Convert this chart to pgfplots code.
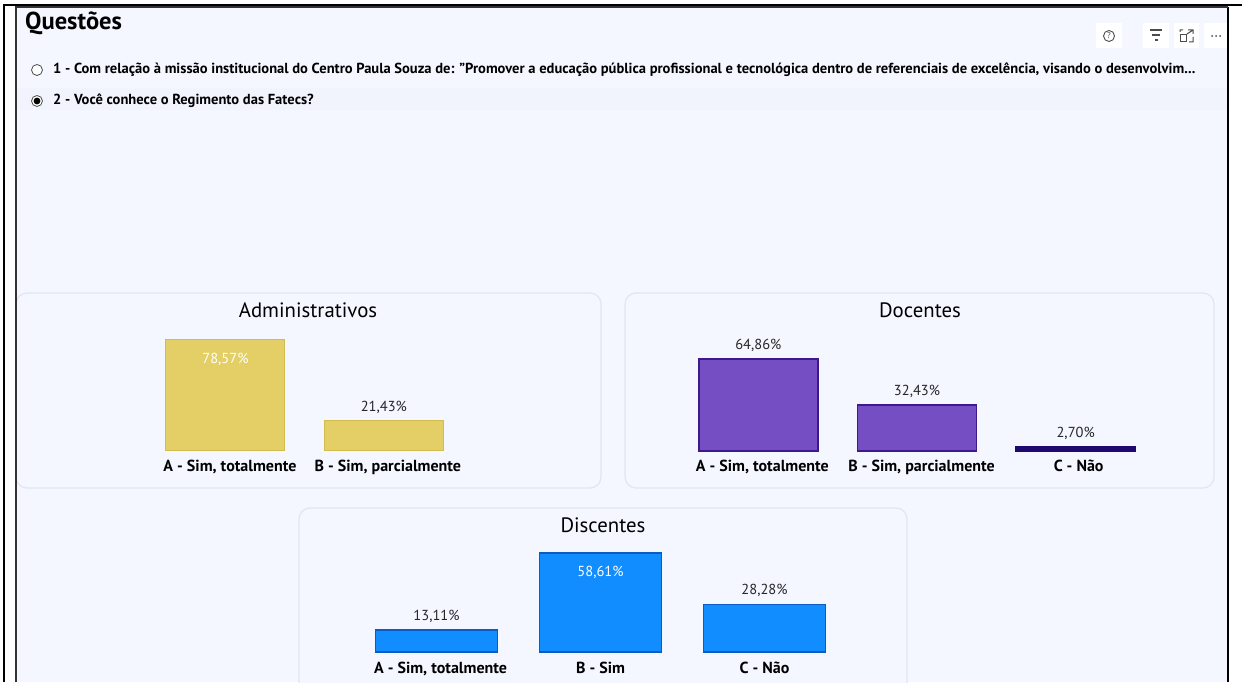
\documentclass[border=0pt]{standalone}
\usepackage{pgfplots}
\pgfplotsset{compat=1.18}
\usepackage{fontspec}
\setmainfont{PT Sans}
\definecolor{bg}{HTML}{F4F7FF}
\definecolor{rowbg}{HTML}{F2F4FD}
\definecolor{panel}{HTML}{E3E5EA}
\definecolor{gold}{HTML}{E4CF66}
\definecolor{goldE}{HTML}{D2BC4E}
\definecolor{purple}{HTML}{744EC2}
\definecolor{purpleE}{HTML}{3C1A8C}
\definecolor{navy}{HTML}{1E0A6E}
\definecolor{blue}{HTML}{118DFF}
\definecolor{blueE}{HTML}{0A5CC0}
\pgfplotsset{panelaxis/.style={
  anchor=south west, scale only axis, ymin=0, clip=false,
  axis lines=none, ybar, bar shift=0pt,
  tick style={draw=none},
  /pgf/number format/.cd, fixed, fixed zerofill, precision=2, use comma, assume math mode=true,
  /pgfplots/.cd,
  nodes near coords={\pgfmathprintnumber{\pgfplotspointmeta}\%},
  nodes near coords style={font=\fontsize{14.5}{16}\selectfont, text=black!85, anchor=south, yshift=6.5pt, inner sep=0pt},
}}
\newcommand{\catlabel}[3]{\node[font=\fontsize{16}{18}\bfseries\selectfont, anchor=base, xshift=#2, yshift=-21pt] at (axis cs:#1,0) {#3};}
\begin{document}
\begin{tikzpicture}[x=1pt,y=1pt]
\path[fill=white] (0,0) rectangle (1246,682);
\begin{scope}
\clip (0,0) rectangle (1246,682);
\fill[bg] (16,0) rectangle (1228,675);
\fill[rowbg] (16,572) rectangle (1228,594);
% frame
\draw[black,line width=2pt] (4.3,0) -- (4.3,677) -- (1242,677);
\draw[black,line width=1.8pt] (1228,675) -- (1228,0);
\draw[black!80,line width=1.6pt] (16,0) -- (16,675) -- (1228,675);
% heading
\node[anchor=west,font=\fontsize{24.5}{26}\bfseries\selectfont,inner sep=0pt] at (25,659) {Questões};
\node[anchor=west,font=\fontsize{14.55}{16}\selectfont,inner sep=0pt] at (53,612) {\textbf{1 - Com relação à missão institucional do Centro Paula Souza de: "Promover a educação pública profissional e tecnológica dentro de referenciais de excelência, visando o desenvolvim...}};
\node[anchor=west,font=\fontsize{14.55}{16}\selectfont,inner sep=0pt] at (53,581) {\textbf{2 - Você conhece o Regimento das Fatecs?}};
\draw[black!70,line width=.8pt,fill=white] (37,612) circle (5.5);
\draw[black!70,line width=.8pt,fill=white] (37,581) circle (5.5);
\fill[black] (37,581) circle (3.4);
% icons
\fill[white] (1096,634) rectangle (1122,659);
\fill[white] (1143,634) rectangle (1169,659);
\fill[white] (1174,634) rectangle (1199,659);
\fill[white] (1204,634) rectangle (1227,659);
\draw[black!70,line width=.9pt] (1109,646) circle (5.5);
\node[font=\fontsize{8.5}{9}\selectfont,text=black!70] at (1109,646) {?};
\draw[black!70,line width=1.2pt] (1150,652) -- (1162,652) (1152,647) -- (1160,647) (1154.5,642) -- (1157.5,642);
\draw[black!70,line width=1pt] (1180,640) rectangle (1186,647);
\draw[black!70,line width=1pt] (1180,650) -- (1180,652) -- (1183,652) (1188,652) -- (1193,652) -- (1193,648) (1193,645) -- (1193,640) -- (1189,640) (1187,648) -- (1193,652);
\fill[black!70] (1212,646) circle (1) (1216,646) circle (1) (1220,646) circle (1);
% panels
\draw[panel,line width=1.2pt,rounded corners=11pt,fill=bg] (16,194) rectangle (601,389);
\draw[panel,line width=1.2pt,rounded corners=11pt,fill=bg] (625,194) rectangle (1214,389);
\draw[panel,line width=1.2pt,rounded corners=11pt,fill=bg] (299,-30) rectangle (907,174);
\draw[black!80,line width=1.6pt] (16,0) -- (16,400);
\node[font=\fontsize{20.8}{23}\selectfont] at (308,372) {Administrativos};
\node[font=\fontsize{20.8}{23}\selectfont] at (920,372) {Docentes};
\node[font=\fontsize{20.8}{23}\selectfont] at (603,157) {Discentes};
\end{scope}
% Administrativos
\begin{axis}[panelaxis, at={(146.25pt,231pt)}, width=396pt, height=114pt, xmin=-0.5, xmax=2, ymax=80,
  bar width=119pt]
\addplot[fill=gold,draw=goldE,line width=1pt,nodes near coords style={text=white,anchor=north,yshift=-20pt}] table[x=x,y=y] {
x y
0 78.57
};
\addplot[fill=gold,draw=goldE,line width=1pt] table[x=x,y=y] {
x y
1 21.43
};
\catlabel{0}{4.5pt}{A - Sim, totalmente}
\catlabel{1}{4pt}{B - Sim, parcialmente}
\end{axis}
% Docentes
\begin{axis}[panelaxis, at={(679pt,231pt)}, width=476pt, height=92pt, xmin=-0.5, xmax=2.5, ymax=64.86,
  bar width=119pt]
\addplot[fill=purple,draw=purpleE,line width=1.4pt] table[x=x,y=y] {
x y
0 64.86
1 32.43
};
\addplot[fill=navy,draw=navy,line width=1.4pt] table[x=x,y=y] {
x y
2 2.70
};
\catlabel{0}{4pt}{A - Sim, totalmente}
\catlabel{1}{4.5pt}{B - Sim, parcialmente}
\catlabel{2}{3pt}{C - Não}
\end{axis}
% Discentes
\begin{axis}[panelaxis, at={(354.5pt,30pt)}, width=492pt, height=99pt, xmin=-0.5, xmax=2.5, ymax=58.61,
  bar width=122pt]
\addplot[fill=blue,draw=blueE,line width=1.4pt] table[x=x,y=y] {
x y
0 13.11
2 28.28
};
\addplot[fill=blue,draw=blueE,line width=1.4pt,nodes near coords style={text=white,anchor=north,yshift=-19pt}] table[x=x,y=y] {
x y
1 58.61
};
\catlabel{0}{4pt}{A - Sim, totalmente}
\catlabel{1}{0pt}{B - Sim}
\catlabel{2}{0pt}{C - Não}
\end{axis}
\end{tikzpicture}
\end{document}
